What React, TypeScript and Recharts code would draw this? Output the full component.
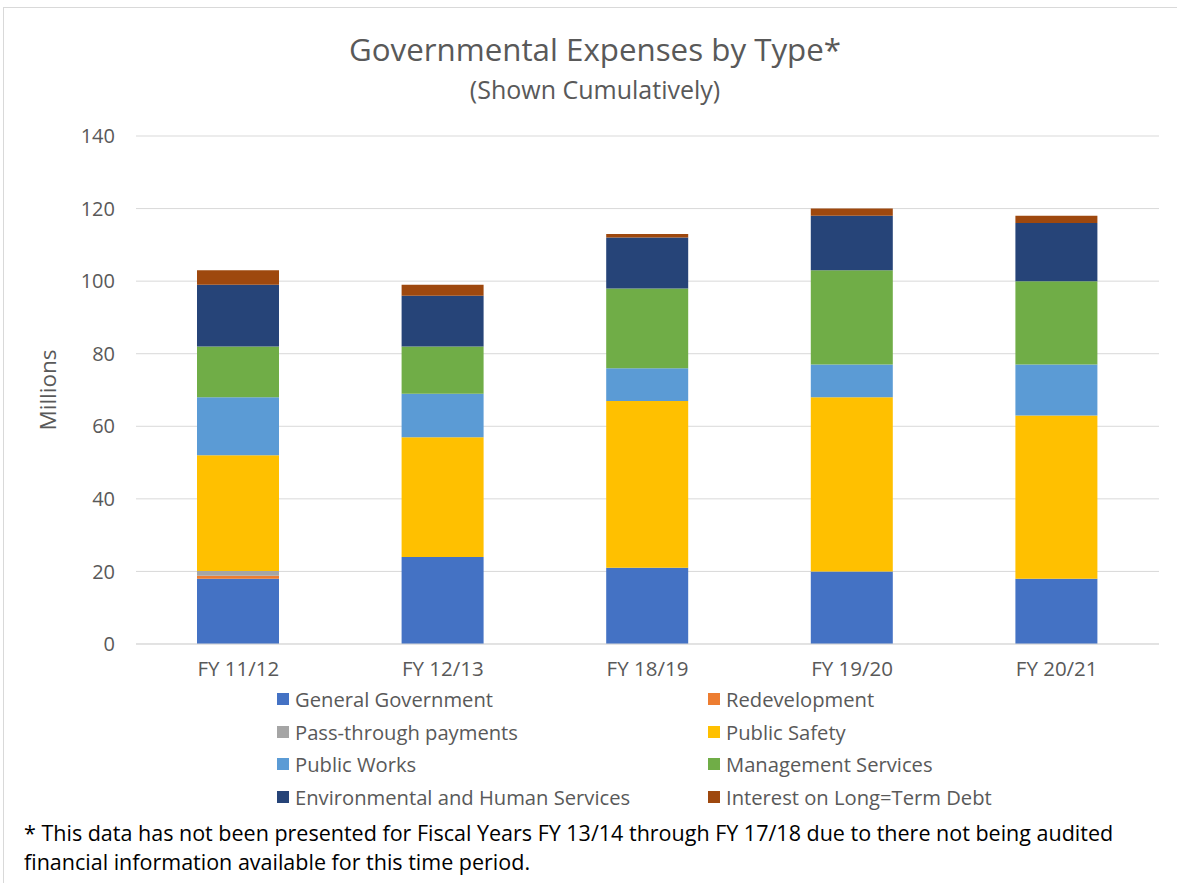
import React from 'react';
import { BarChart, Bar, XAxis, YAxis, CartesianGrid } from 'recharts';

const years = ['FY 11/12', 'FY 12/13', 'FY 18/19', 'FY 19/20', 'FY 20/21'];

const generalGovernment = [18, 24, 21, 20, 18];
const redevelopment = [0.8, 0, 0, 0, 0];
const passThrough = [1.3, 0, 0, 0, 0];
const publicSafety = [31.9, 33, 46, 48, 45];
const publicWorks = [16, 12, 9, 9, 14];
const managementServices = [14, 13, 22, 26, 23];
const envHumanServices = [17, 14, 14, 15, 16];
const interestDebt = [4, 3, 1, 2, 2];

const yTicks = [0, 20, 40, 60, 80, 100, 120, 140];

const series = [
  { key: 'gg', name: 'General Government', values: generalGovernment, color: '#4472C4' },
  { key: 'redev', name: 'Redevelopment', values: redevelopment, color: '#ED7D31' },
  { key: 'pass', name: 'Pass-through payments', values: passThrough, color: '#A5A5A5' },
  { key: 'ps', name: 'Public Safety', values: publicSafety, color: '#FFC000' },
  { key: 'pw', name: 'Public Works', values: publicWorks, color: '#5B9BD5' },
  { key: 'ms', name: 'Management Services', values: managementServices, color: '#70AD47' },
  { key: 'env', name: 'Environmental and Human Services', values: envHumanServices, color: '#264478' },
  { key: 'int', name: 'Interest on Long=Term Debt', values: interestDebt, color: '#9E480E' },
];

const data = years.map((year, i) => {
  const row: Record<string, string | number> = { year };
  series.forEach(s => { row[s.key] = s.values[i]; });
  return row;
});

const FONT = '"Open Sans", Lato, sans-serif';
const GRAY = '#595959';

export default function App() {
  return (
    <div style={{ position: 'absolute', left: 0, top: 0, width: 1177, height: 883, background: '#fff', fontFamily: FONT, overflow: 'hidden' }}>
      {/* frame */}
      <div style={{ position: 'absolute', left: 3, top: 7, width: 1200, height: 900, borderLeft: '1px solid #d9d9d9', borderTop: '1px solid #d9d9d9' }} />

      <div style={{ position: 'absolute', left: 0, top: 28, width: 1190, textAlign: 'center', color: GRAY, fontSize: 31.3 }}>
        Governmental Expenses by Type*
      </div>
      <div style={{ position: 'absolute', left: 0, top: 72, width: 1190, textAlign: 'center', color: GRAY, fontSize: 25 }}>
        (Shown Cumulatively)
      </div>

      <div style={{ position: 'absolute', left: 0, top: 0 }}>
        <BarChart width={1177} height={690} data={data} margin={{ top: 136, right: 18, left: 0, bottom: 0 }}>
          <CartesianGrid vertical={false} stroke="#d9d9d9" strokeWidth={1} />
          <XAxis
            dataKey="year"
            height={46}
            tickLine={false}
            axisLine={{ stroke: '#d9d9d9' }}
            tick={{ fill: GRAY, fontSize: 20.5, fontFamily: FONT }}
            tickMargin={11}
          />
          <YAxis
            width={136}
            domain={[0, 140]}
            ticks={yTicks}
            tickLine={false}
            axisLine={false}
            tickSize={0}
            tickMargin={21}
            tick={{ fill: GRAY, fontSize: 20, fontFamily: FONT }}
            label={{ value: 'Millions', angle: -90, position: 'insideLeft', offset: 48, fill: GRAY, fontSize: 22.5, fontFamily: FONT, style: { textAnchor: 'middle' } }}
          />
          {series.map(s => (
            <Bar key={s.key} dataKey={s.key} name={s.name} stackId="a" fill={s.color} barSize={82} isAnimationActive={false} />
          ))}
        </BarChart>
      </div>

      {/* legend */}
      <div style={{ position: 'absolute', left: 277, top: 686, display: 'grid', gridTemplateColumns: '431px 400px', rowGap: 6 }}>
        {series.map(s => (
          <div key={s.key} style={{ display: 'flex', alignItems: 'center', height: 26.5, color: GRAY, fontSize: 20.2 }}>
            <span style={{ display: 'inline-block', width: 12, height: 12, background: s.color, marginRight: 6 }} />
            <span>{s.name}</span>
          </div>
        ))}
      </div>

      <div style={{ position: 'absolute', left: 24, top: 818, width: 1110, color: '#000', fontSize: 21.5, lineHeight: '29px' }}>
        * This data has not been presented for Fiscal Years FY 13/14 through FY 17/18 due to there not being audited financial information available for this time period.
      </div>
    </div>
  );
}
